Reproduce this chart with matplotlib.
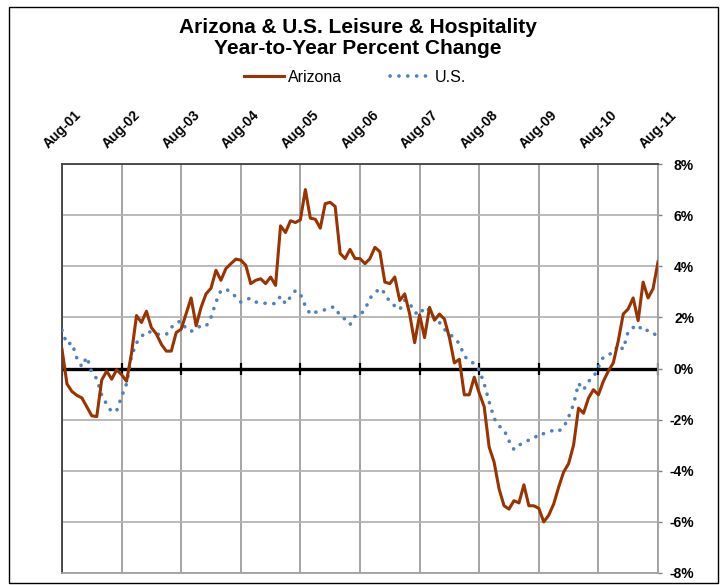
import numpy as np
import matplotlib.pyplot as plt
from matplotlib.patches import Rectangle

plt.rcParams['font.family'] = ['Liberation Sans', 'DejaVu Sans']

# x axis labels (one every 12 months, Aug-01 .. Aug-11)
tick_labels = ['Aug-01', 'Aug-02', 'Aug-03', 'Aug-04', 'Aug-05', 'Aug-06',
               'Aug-07', 'Aug-08', 'Aug-09', 'Aug-10', 'Aug-11']

# year-to-year percent change, monthly (Aug-01 .. Aug-11)
arizona = [
    0.75, -0.6, -0.9, -1.05, -1.15, -1.5, -1.85, -1.88, -0.45, -0.1, -0.42, -0.05,
    -0.24, -0.5, 0.6, 2.07, 1.8, 2.24, 1.6, 1.35, 0.95, 0.68, 0.68, 1.41,
    1.54, 2.15, 2.76, 1.67, 2.39, 2.92, 3.14, 3.84, 3.45, 3.91, 4.1, 4.28,
    4.24, 4.04, 3.32, 3.45, 3.51, 3.32, 3.58, 3.25, 5.58, 5.32, 5.78, 5.71,
    5.82, 7.0, 5.88, 5.84, 5.49, 6.45, 6.5, 6.34, 4.5, 4.3, 4.66, 4.3,
    4.3, 4.1, 4.3, 4.74, 4.57, 3.38, 3.32, 3.58, 2.66, 2.92, 2.13, 1.01,
    2.1, 1.21, 2.39, 1.89, 2.13, 1.93, 1.21, 0.22, 0.36, -1.03, -1.03, -0.34,
    -0.96, -1.49, -3.07, -3.66, -4.71, -5.37, -5.5, -5.17, -5.26, -4.55, -5.37, -5.37,
    -5.47, -6.0, -5.74, -5.3, -4.64, -4.05, -3.72, -3.0, -1.55, -1.75, -1.16, -0.83,
    -1.03, -0.5, -0.1, 0.22, 1.08, 2.13, 2.33, 2.76, 1.87, 3.38, 2.76, 3.12,
    4.17,
]
us = [
    1.5, 0.95, 1.0, 0.4, 0.07, 0.45, -0.15, -0.4, -1.05, -1.4, -1.7, -1.65,
    -1.1, -0.6, 0.49, 1.0, 1.25, 1.45, 1.42, 1.35, 1.32, 1.33, 1.6, 1.8,
    1.85, 1.55, 1.45, 1.6, 1.65, 1.64, 2.0, 2.6, 3.05, 3.1, 3.0, 2.8,
    2.6, 2.7, 2.75, 2.6, 2.57, 2.55, 2.52, 2.55, 2.83, 2.53, 2.8, 3.05,
    2.9, 2.45, 2.12, 2.2, 2.25, 2.3, 2.4, 2.4, 2.05, 1.93, 1.72, 2.05,
    2.1, 2.3, 2.75, 2.95, 3.14, 2.95, 2.6, 2.45, 2.3, 2.67, 2.55, 2.2,
    2.1, 2.4, 2.28, 1.95, 1.8, 1.53, 1.35, 1.2, 0.97, 0.5, 0.28, 0.2,
    -0.05, -0.6, -1.3, -1.95, -2.25, -2.4, -2.83, -3.17, -3.0, -2.9, -2.8, -2.75,
    -2.55, -2.55, -2.5, -2.4, -2.45, -2.3, -1.9, -1.4, -0.58, -0.84, -0.5, -0.35,
    0.05, 0.45, 0.55, 0.61, 0.92, 0.75, 1.45, 1.6, 1.7, 1.45, 1.5, 1.4,
    1.22,
]
y_ticks = [-8, -6, -4, -2, 0, 2, 4, 6, 8]

months = np.arange(len(arizona))
year_pos = months[::12]

fig = plt.figure(figsize=(7.26, 5.85), dpi=100)
# outer chart border
fig.patches.append(Rectangle((9 / 726, 2 / 585), 709 / 726, 576 / 585, transform=fig.transFigure,
                             fill=False, edgecolor='black', linewidth=1))

ax = fig.add_axes([62 / 726, 12 / 585, 596 / 726, 409 / 585])

ax.plot(months, arizona, color='#993300', linewidth=2.2, label='Arizona', zorder=4)
ax.plot(months, us, color='#4f81bd', linewidth=2.6, linestyle=(0, (0.05, 2.4)),
        dash_capstyle='round', label='U.S.', zorder=3)

# zero line with year tick marks
ax.axhline(0, color='black', linewidth=2.4, zorder=2)
ax.plot(year_pos, np.zeros(len(year_pos)), linestyle='none', marker='|',
        markersize=9, markeredgewidth=1.6, color='black', zorder=2)

ax.set_xlim(0, 120)
ax.set_ylim(-8, 8)
ax.set_xticks(year_pos)
ax.set_xticklabels(tick_labels, rotation=45, fontsize=10, fontweight='bold')
ax.xaxis.tick_top()
ax.tick_params(axis='x', length=0, pad=9)

ax.yaxis.tick_right()
ax.set_yticks(y_ticks)
ax.set_yticklabels(['{}%'.format(v) for v in y_ticks], fontsize=10, fontweight='bold')
for lbl in ax.get_yticklabels():
    lbl.set_horizontalalignment('right')
ax.tick_params(axis='y', length=3, width=1, color='#808080', pad=23)

ax.grid(axis='x', color='#8c8c8c', linewidth=1.1)
ax.grid(axis='y', color='#b4b4b4', linewidth=1.3)
ax.set_axisbelow(True)
for side in ['top', 'left']:
    ax.spines[side].set_color('#404040')
    ax.spines[side].set_linewidth(1.3)
for side in ['right', 'bottom']:
    ax.spines[side].set_color('#a0a0a0')
    ax.spines[side].set_linewidth(1.3)

fig.text(358 / 726, 1 - 38 / 585, 'Arizona & U.S. Leisure & Hospitality\nYear-to-Year Percent Change',
         ha='center', va='center', fontsize=15, fontweight='bold', linespacing=1.15)

fig.legend(loc='center', bbox_to_anchor=(355 / 726, 1 - 77 / 585), ncol=2, frameon=False,
           fontsize=11.5, handlelength=2.5, columnspacing=3.0, handletextpad=0.3)

fig.savefig('out.png', dpi=100)
